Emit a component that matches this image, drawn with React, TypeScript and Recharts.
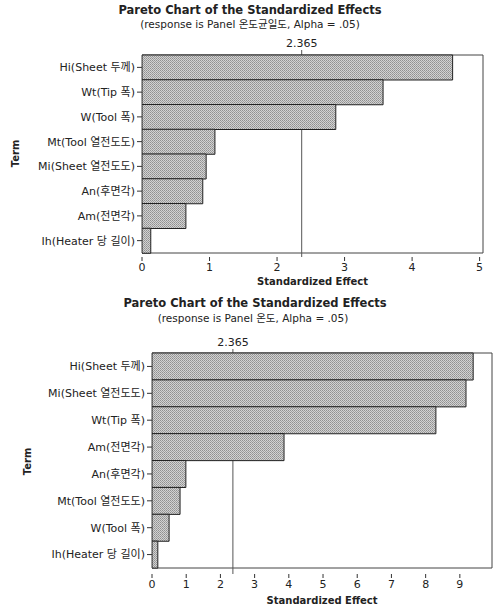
import React from 'react';
import { BarChart, Bar, XAxis, YAxis, ReferenceLine, ReferenceArea } from 'recharts';

// ---- data ----
const chartTitle = 'Pareto Chart of the Standardized Effects';
const subtitle1 = '(response is Panel 온도균일도, Alpha = .05)';
const subtitle2 = '(response is Panel 온도, Alpha = .05)';
const criticalValue = 2.365;

const terms1 = ['Hi(Sheet 두께)', 'Wt(Tip 폭)', 'W(Tool 폭)', 'Mt(Tool 열전도도)', 'Mi(Sheet 열전도도)', 'An(후면각)', 'Am(전면각)', 'Ih(Heater 당 길이)'];
const effects1 = [4.6, 3.57, 2.87, 1.08, 0.95, 0.9, 0.65, 0.13];
const ticks1 = [0, 1, 2, 3, 4, 5];
const xMax1 = 5.05;

const terms2 = ['Hi(Sheet 두께)', 'Mi(Sheet 열전도도)', 'Wt(Tip 폭)', 'Am(전면각)', 'An(후면각)', 'Mt(Tool 열전도도)', 'W(Tool 폭)', 'Ih(Heater 당 길이)'];
const effects2 = [9.39, 9.18, 8.3, 3.86, 0.99, 0.82, 0.5, 0.17];
const ticks2 = [0, 1, 2, 3, 4, 5, 6, 7, 8, 9];
const xMax2 = 9.94;

const FONT = '"DejaVu Sans", "Noto Sans CJK KR", sans-serif';

const TermLabel = (props: any) => {
  const { viewBox, cx } = props;
  const y = viewBox.y + viewBox.height / 2;
  return (
    <text
      x={cx}
      y={y}
      transform={`rotate(-90 ${cx} ${y})`}
      textAnchor="middle"
      dominantBaseline="central"
      fontFamily={FONT}
      fontSize={10}
      fontWeight="bold"
      fill="#222"
    >
      Term
    </text>
  );
};

type PanelProps = {
  id: string;
  terms: string[];
  effects: number[];
  ticks: number[];
  xMax: number;
  height: number;
  plotTop: number;
  plotBottom: number;
  yWidth: number;
  rightMargin: number;
  padTop: number;
  padBottom: number;
  termX: number;
  labelOffset: number;
};

const Panel = (p: PanelProps) => {
  const data = p.terms.map((t, i) => ({ term: t, effect: p.effects[i] }));
  const xHeight = p.height - p.plotBottom;
  return (
    <BarChart
      width={494}
      height={p.height}
      data={data}
      layout="vertical"
      barCategoryGap={0}
      margin={{ top: p.plotTop, right: p.rightMargin, bottom: 0, left: 0 }}
    >
      <defs>
        <pattern id={p.id} width="2" height="2" patternUnits="userSpaceOnUse">
          <rect width="2" height="2" fill="#d2d2d2" />
          <rect width="1" height="1" fill="#909090" />
          <rect x="1" y="1" width="1" height="1" fill="#a0a0a0" />
        </pattern>
      </defs>
      <XAxis
        type="number"
        domain={[0, p.xMax]}
        ticks={p.ticks}
        allowDataOverflow
        height={xHeight}
        axisLine={false}
        tickSize={4}
        tickMargin={2}
        tickLine={{ stroke: '#333' }}
        tick={{ fontFamily: FONT, fontSize: 11, fill: '#222' }}
        label={{
          value: 'Standardized Effect',
          position: 'insideBottom',
          offset: p.labelOffset,
          fontFamily: FONT,
          fontSize: 10,
          fontWeight: 'bold',
          fill: '#222',
        }}
      />
      <XAxis
        xAxisId="top"
        orientation="top"
        type="number"
        domain={[0, p.xMax]}
        ticks={[criticalValue]}
        allowDataOverflow
        height={0}
        axisLine={false}
        tickSize={3}
        tickLine={{ stroke: '#333' }}
        tickFormatter={() => ''}
      />
      <YAxis
        type="category"
        dataKey="term"
        width={p.yWidth}
        interval={0}
        axisLine={false}
        tickSize={5}
        tickMargin={2}
        padding={{ top: p.padTop, bottom: p.padBottom }}
        tickLine={{ stroke: '#333' }}
        tick={{ fontFamily: FONT, fontSize: 11, fill: '#222' }}
        label={<TermLabel cx={p.termX} />}
      />
      <ReferenceArea x1={0} x2={p.xMax} fill="none" stroke="#444" strokeWidth={1} fillOpacity={0} zIndex={0} />
      <ReferenceLine
        x={criticalValue}
        stroke="#555"
        strokeWidth={1}
        zIndex={0}
        label={{ value: '2.365', position: 'top', offset: 3, fontFamily: FONT, fontSize: 11, fill: '#222' }}
      />
      <Bar dataKey="effect" fill={`url(#${p.id})`} stroke="#222" strokeWidth={1} isAnimationActive={false} zIndex={400} />
    </BarChart>
  );
};

const titleStyle = (top: number, cx: number, size: number, bold: boolean): React.CSSProperties => ({
  position: 'absolute',
  top,
  left: cx,
  transform: 'translateX(-50%)',
  whiteSpace: 'nowrap',
  fontFamily: FONT,
  fontSize: size,
  fontWeight: bold ? 'bold' : 'normal',
  lineHeight: '14px',
  color: '#222',
});

export default function App() {
  return (
    <div style={{ position: 'absolute', left: 0, top: 0, width: 494, height: 609, background: '#fff', overflow: 'hidden' }}>
      <div style={titleStyle(3, 250, 11.5, true)}>{chartTitle}</div>
      <div style={titleStyle(17, 250, 10.5, false)}>{subtitle1}</div>
      <div style={{ position: 'absolute', left: 0, top: 0 }}>
        <Panel
          id="dither1"
          terms={terms1}
          effects={effects1}
          ticks={ticks1}
          xMax={xMax1}
          height={300}
          plotTop={50}
          plotBottom={257}
          yWidth={142}
          rightMargin={11}
          padTop={5}
          padBottom={4}
          termX={15}
          labelOffset={15}
        />
      </div>
      <div style={titleStyle(296, 255, 11.5, true)}>{chartTitle}</div>
      <div style={titleStyle(311, 253, 10.5, false)}>{subtitle2}</div>
      <div style={{ position: 'absolute', left: 0, top: 290 }}>
        <Panel
          id="dither2"
          terms={terms2}
          effects={effects2}
          ticks={ticks2}
          xMax={xMax2}
          height={319}
          plotTop={59}
          plotBottom={284}
          yWidth={152}
          rightMargin={2}
          padTop={4}
          padBottom={6}
          termX={27}
          labelOffset={5}
        />
      </div>
    </div>
  );
}
